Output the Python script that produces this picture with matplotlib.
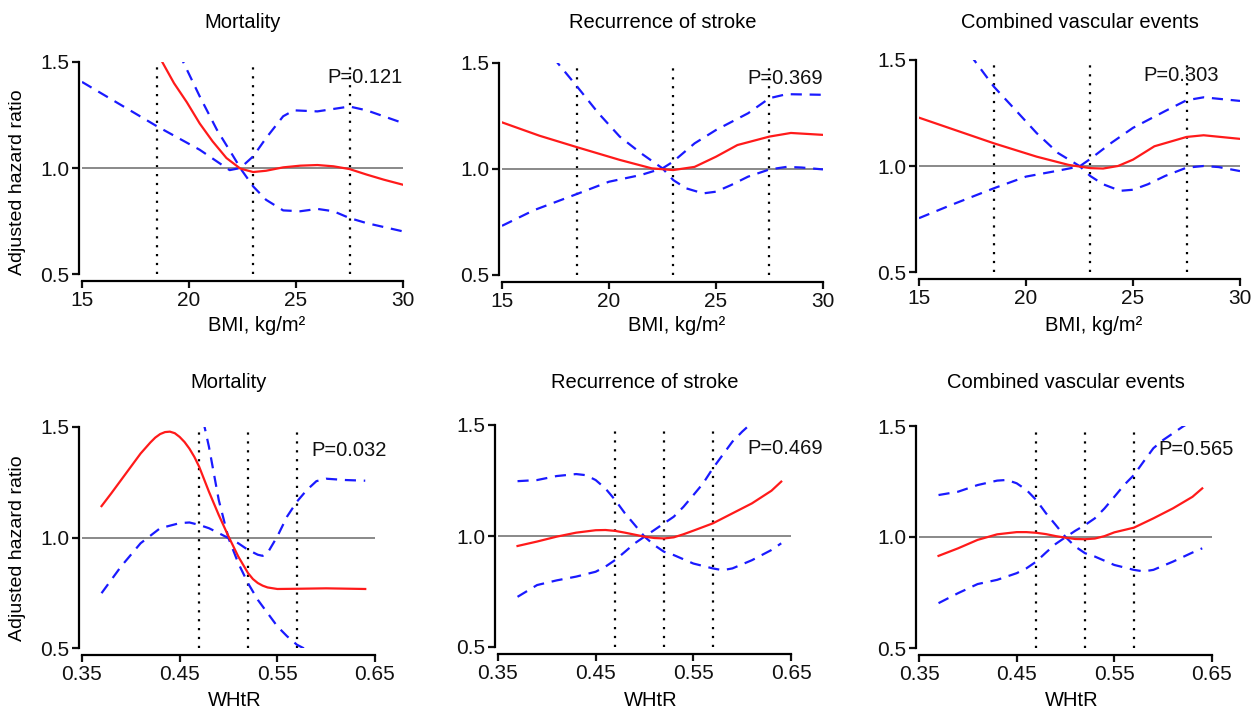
import matplotlib
matplotlib.use("Agg")
import matplotlib.pyplot as plt

plt.rcParams['font.family'] = ['Liberation Sans', 'DejaVu Sans']

W, H = 1257, 710

titles = ["Mortality", "Recurrence of stroke", "Combined vascular events"]
p_top = ["P=0.121", "P=0.369", "P=0.303"]
p_bot = ["P=0.032", "P=0.469", "P=0.565"]
bmi_cuts = [18.5, 23, 27.5]
whtr_cuts = [0.47, 0.52, 0.57]
bmi_ticks = [15, 20, 25, 30]
whtr_ticks = [0.35, 0.45, 0.55, 0.65]
y_ticks = [0.5, 1.0, 1.5]

# ---- BMI: Mortality ----
m_bmi_red_x = [18.5, 18.75, 19.3, 19.9, 20.5, 21.1, 21.75, 22.4, 23.0, 23.6, 24.4, 25.2, 26.0, 26.75, 27.5, 28.3, 29.1, 30.0]
m_bmi_red_y = [1.55, 1.50, 1.40, 1.31, 1.21, 1.126, 1.047, 0.997, 0.981, 0.987, 1.003, 1.011, 1.014, 1.008, 0.995, 0.969, 0.945, 0.921]
m_bmi_a_x = [15, 18.5, 20.5, 21.9, 22.4, 23.0, 23.6, 24.4, 24.9, 26.0, 27.5, 28.3, 30.0]
m_bmi_a_y = [1.406, 1.197, 1.086, 0.99, 1.0, 1.055, 1.141, 1.244, 1.272, 1.267, 1.29, 1.272, 1.212]
m_bmi_b_x = [19.5, 19.73, 20.5, 21.3, 22.07, 22.46, 23.0, 23.6, 24.4, 25.2, 26.0, 26.75, 27.5, 28.3, 30.0]
m_bmi_b_y = [1.54, 1.50, 1.338, 1.181, 1.055, 0.99, 0.913, 0.85, 0.80, 0.796, 0.807, 0.796, 0.764, 0.74, 0.701]

# ---- BMI: Recurrence ----
r_bmi_red_x = [15, 16.75, 18.5, 20.5, 22.0, 23.0, 24.0, 25.0, 26.0, 27.5, 28.5, 30.0]
r_bmi_red_y = [1.22, 1.157, 1.103, 1.043, 1.003, 0.995, 1.01, 1.058, 1.113, 1.153, 1.17, 1.161]
r_bmi_a_x = [17.4, 17.6, 18.5, 19.5, 20.5, 21.5, 22.5, 23.0, 23.6, 24.4, 25.0, 25.7, 26.5, 27.5, 28.3, 29.0, 30.0]
r_bmi_a_y = [1.53, 1.50, 1.39, 1.264, 1.153, 1.074, 1.003, 0.948, 0.909, 0.885, 0.893, 0.924, 0.964, 0.998, 1.01, 1.007, 0.998]
r_bmi_b_x = [15, 16.5, 18.5, 20.0, 21.5, 22.5, 23.0, 24.0, 25.0, 26.5, 27.5, 28.3, 30.0]
r_bmi_b_y = [0.732, 0.806, 0.882, 0.94, 0.972, 1.003, 1.035, 1.121, 1.184, 1.263, 1.334, 1.353, 1.35]

# ---- BMI: Combined ----
c_bmi_red_x = [15, 18.5, 20.5, 22.0, 23.0, 23.6, 24.3, 25.0, 26.0, 27.5, 28.3, 30.0]
c_bmi_red_y = [1.228, 1.107, 1.044, 1.005, 0.99, 0.988, 1.0, 1.03, 1.093, 1.137, 1.145, 1.128]
c_bmi_a_x = [17.4, 17.5, 18.5, 19.5, 20.5, 21.5, 22.5, 23.0, 23.6, 24.4, 25.0, 25.7, 26.5, 27.5, 28.3, 29.0, 30.0]
c_bmi_a_y = [1.53, 1.51, 1.374, 1.265, 1.155, 1.061, 1.0, 0.953, 0.914, 0.883, 0.888, 0.914, 0.953, 0.992, 1.0, 0.995, 0.976]
c_bmi_b_x = [15, 16.5, 18.5, 20.0, 21.5, 22.5, 23.0, 24.0, 25.0, 26.5, 27.5, 28.3, 30.0]
c_bmi_b_y = [0.754, 0.816, 0.895, 0.95, 0.978, 0.998, 1.033, 1.11, 1.18, 1.259, 1.31, 1.324, 1.307]

# ---- WHtR: Mortality ----
m_w_red_x = [0.37, 0.38, 0.39, 0.40, 0.41, 0.42, 0.425, 0.43, 0.435, 0.44, 0.445, 0.45, 0.455, 0.46, 0.465, 0.47, 0.48, 0.49, 0.50, 0.51, 0.52, 0.525, 0.53, 0.535, 0.54, 0.55, 0.57, 0.60, 0.64]
m_w_red_y = [1.142, 1.20, 1.26, 1.32, 1.38, 1.43, 1.452, 1.468, 1.477, 1.479, 1.472, 1.455, 1.432, 1.402, 1.365, 1.32, 1.207, 1.102, 1.005, 0.914, 0.839, 0.812, 0.794, 0.782, 0.774, 0.767, 0.768, 0.77, 0.767]
m_w_a_x = [0.37, 0.39, 0.41, 0.43, 0.45, 0.46, 0.47, 0.48, 0.49, 0.50, 0.51, 0.52, 0.53, 0.535, 0.54, 0.55, 0.56, 0.57, 0.58, 0.59, 0.60, 0.62, 0.64]
m_w_a_y = [0.748, 0.869, 0.974, 1.042, 1.065, 1.068, 1.057, 1.042, 1.02, 0.997, 0.974, 0.944, 0.922, 0.917, 0.93, 1.005, 1.095, 1.162, 1.214, 1.255, 1.266, 1.26, 1.257]
m_w_b_x = [0.474, 0.475, 0.48, 0.49, 0.50, 0.51, 0.52, 0.53, 0.54, 0.55, 0.56, 0.57, 0.58]
m_w_b_y = [1.53, 1.51, 1.41, 1.17, 0.997, 0.884, 0.793, 0.718, 0.658, 0.598, 0.553, 0.515, 0.492]

# ---- WHtR: Recurrence ----
r_w_red_x = [0.37, 0.39, 0.41, 0.43, 0.45, 0.46, 0.47, 0.48, 0.49, 0.50, 0.51, 0.52, 0.53, 0.54, 0.55, 0.57, 0.59, 0.61, 0.63, 0.64]
r_w_red_y = [0.955, 0.975, 0.997, 1.015, 1.026, 1.027, 1.023, 1.015, 1.006, 0.997, 0.991, 0.989, 0.994, 1.008, 1.024, 1.057, 1.102, 1.147, 1.204, 1.245]
r_w_a_x = [0.37, 0.39, 0.41, 0.43, 0.44, 0.45, 0.46, 0.47, 0.48, 0.49, 0.50, 0.51, 0.52, 0.53, 0.55, 0.57, 0.58, 0.59, 0.61, 0.63, 0.64]
r_w_a_y = [1.247, 1.252, 1.27, 1.279, 1.274, 1.252, 1.214, 1.162, 1.102, 1.05, 0.997, 0.959, 0.929, 0.914, 0.876, 0.854, 0.846, 0.854, 0.891, 0.937, 0.967]
r_w_b_x = [0.37, 0.39, 0.41, 0.43, 0.45, 0.46, 0.47, 0.48, 0.49, 0.50, 0.51, 0.52, 0.53, 0.54, 0.55, 0.56, 0.57, 0.58, 0.59, 0.60, 0.61]
r_w_b_y = [0.726, 0.779, 0.80, 0.817, 0.839, 0.862, 0.892, 0.929, 0.967, 0.997, 1.027, 1.057, 1.087, 1.132, 1.184, 1.237, 1.305, 1.365, 1.425, 1.47, 1.51]

# ---- WHtR: Combined ----
c_w_red_x = [0.37, 0.39, 0.41, 0.43, 0.45, 0.46, 0.47, 0.48, 0.49, 0.50, 0.51, 0.52, 0.53, 0.54, 0.55, 0.57, 0.59, 0.61, 0.63, 0.64]
c_w_red_y = [0.915, 0.949, 0.987, 1.012, 1.022, 1.022, 1.019, 1.013, 1.004, 0.997, 0.991, 0.99, 0.993, 1.004, 1.021, 1.042, 1.084, 1.129, 1.181, 1.219]
c_w_a_x = [0.37, 0.39, 0.41, 0.43, 0.44, 0.45, 0.46, 0.47, 0.48, 0.49, 0.50, 0.51, 0.52, 0.53, 0.55, 0.57, 0.58, 0.59, 0.61, 0.63, 0.64]
c_w_a_y = [1.189, 1.204, 1.234, 1.254, 1.257, 1.242, 1.212, 1.167, 1.107, 1.054, 1.0, 0.957, 0.927, 0.912, 0.874, 0.852, 0.845, 0.852, 0.889, 0.93, 0.949]
c_w_b_x = [0.37, 0.39, 0.41, 0.43, 0.45, 0.46, 0.47, 0.48, 0.49, 0.50, 0.51, 0.52, 0.53, 0.54, 0.55, 0.56, 0.57, 0.58, 0.59, 0.60, 0.61, 0.62, 0.625]
c_w_b_y = [0.702, 0.747, 0.788, 0.807, 0.837, 0.859, 0.889, 0.93, 0.969, 0.999, 1.028, 1.054, 1.084, 1.129, 1.181, 1.234, 1.279, 1.34, 1.4, 1.437, 1.467, 1.497, 1.51]

top_series = [
    (m_bmi_red_x, m_bmi_red_y, m_bmi_a_x, m_bmi_a_y, m_bmi_b_x, m_bmi_b_y),
    (r_bmi_red_x, r_bmi_red_y, r_bmi_a_x, r_bmi_a_y, r_bmi_b_x, r_bmi_b_y),
    (c_bmi_red_x, c_bmi_red_y, c_bmi_a_x, c_bmi_a_y, c_bmi_b_x, c_bmi_b_y),
]
bot_series = [
    (m_w_red_x, m_w_red_y, m_w_a_x, m_w_a_y, m_w_b_x, m_w_b_y),
    (r_w_red_x, r_w_red_y, r_w_a_x, r_w_a_y, r_w_b_x, r_w_b_y),
    (c_w_red_x, c_w_red_y, c_w_a_x, c_w_a_y, c_w_b_x, c_w_b_y),
]

# pixel boxes (x0, x1, ytop, ybottom) of the data area
top_boxes = [(82, 403, 62, 274), (502, 823, 63, 275), (919, 1240, 60, 272)]
bot_boxes = [(82, 375, 427, 648), (498, 791, 425, 647), (919, 1212, 426, 648)]

fig = plt.figure(figsize=(W / 100, H / 100), dpi=100)


def make_ax(box):
    x0, x1, yt, yb = box
    return fig.add_axes([x0 / W, 1 - yb / H, (x1 - x0) / W, (yb - yt) / H])


def style(ax, xlim, xticks, xticklabels, cuts, ptext, px, py, series):
    rx, ry, ax_, ay, bx, by = series
    ax.set_xlim(*xlim)
    ax.set_ylim(0.5, 1.5)
    for c in cuts:
        ax.axvline(c, color='black', linestyle=(0, (1, 3)), lw=1.6, zorder=1)
    ax.axhline(1.0, color='#808080', lw=1.3, zorder=1)
    ax.plot(ax_, ay, color='#1a1aff', lw=1.6, linestyle=(0, (5, 3.5)), zorder=2)
    ax.plot(bx, by, color='#1a1aff', lw=1.6, linestyle=(0, (5, 3.5)), zorder=2)
    ax.plot(rx, ry, color='#ff1a1a', lw=1.6, zorder=3)
    for s in ['top', 'right']:
        ax.spines[s].set_visible(False)
    ax.spines['left'].set_position(('outward', 2))
    ax.spines['bottom'].set_position(('outward', 5))
    ax.spines['left'].set_linewidth(1.6)
    ax.spines['bottom'].set_linewidth(1.6)
    ax.set_yticks(y_ticks)
    ax.set_yticklabels(['0.5', '1.0', '1.5'])
    ax.set_xticks(xticks)
    ax.set_xticklabels(xticklabels)
    ax.tick_params(axis='both', labelsize=15, length=5, width=1.6, pad=2, colors='#111111')
    ax.patch.set_alpha(0)
    ax.text(px, py, ptext, ha='right', va='center', fontsize=14.5, color='#111111', clip_on=False)


for i, box in enumerate(top_boxes):
    ax = make_ax(box)
    style(ax, (15, 30), bmi_ticks, [str(t) for t in bmi_ticks], bmi_cuts, p_top[i],
          [30.0, 30.0, 29.0][i], 1.425, top_series[i])
    cx = (box[0] + box[1]) / 2
    fig.text(cx / W, 1 - 22 / H, titles[i], ha='center', va='center', fontsize=14.5)
    fig.text((cx + 14) / W, 1 - 325 / H, 'BMI, kg/m²', ha='center', va='center', fontsize=14.5)

for i, box in enumerate(bot_boxes):
    ax = make_ax(box)
    style(ax, (0.35, 0.65), whtr_ticks, ['0.35', '0.45', '0.55', '0.65'], whtr_cuts, p_bot[i],
          [0.662, 0.683, 0.672][i], 1.395, bot_series[i])
    cx = (box[0] + box[1]) / 2
    fig.text(cx / W, 1 - 383 / H, titles[i], ha='center', va='center', fontsize=14.5)
    fig.text((cx + 6) / W, 1 - 701 / H, 'WHtR', ha='center', va='center', fontsize=14.5)

fig.text(18 / W, 1 - 182 / H, 'Adjusted hazard ratio', rotation=90, ha='center', va='center', fontsize=14)
fig.text(18 / W, 1 - 548 / H, 'Adjusted hazard ratio', rotation=90, ha='center', va='center', fontsize=14)

fig.savefig('out.png', dpi=100, facecolor='white')
